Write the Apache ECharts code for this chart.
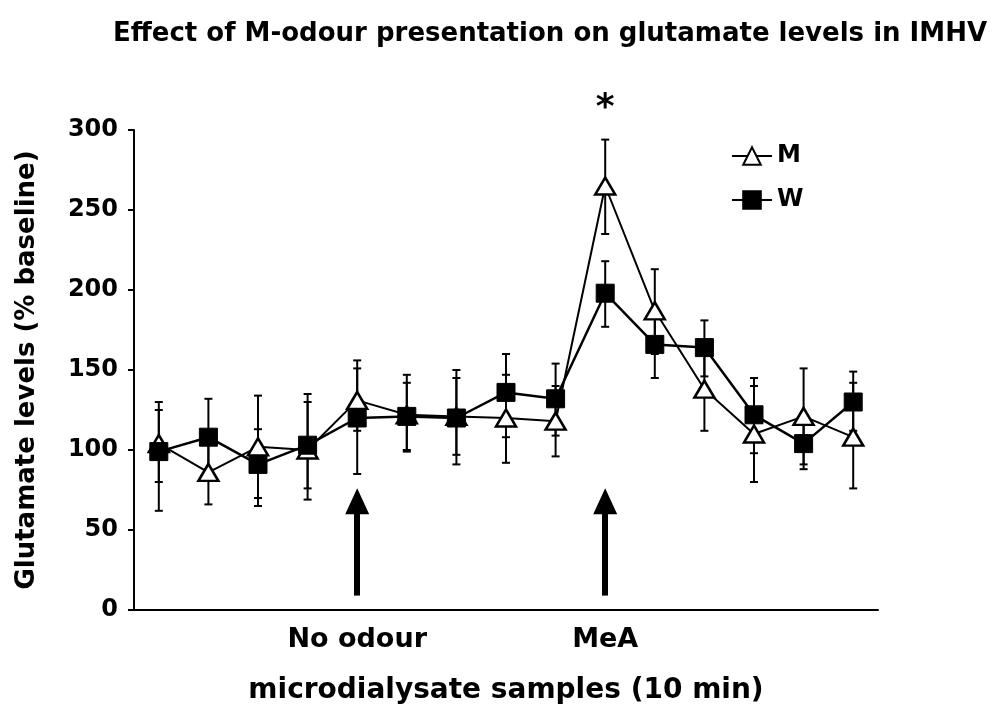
<!DOCTYPE html>
<html>
<head>
<meta charset="utf-8">
<script src="https://cdn.jsdelivr.net/npm/echarts@6/dist/echarts.min.js"></script>
<style>html,body{margin:0;padding:0;background:#fff;}#chart{width:993px;height:717px;}</style>
</head>
<body>
<div id="chart"></div>
<script>
const samples = ['1','2','3','4','5','6','7','8','9','10','11','12','13','14','15'];
const tickLabels = ['', '', '', '', 'No odour', '', '', '', '', 'MeA', '', '', '', '', ''];
const yTicks = [0, 50, 100, 150, 200, 250, 300];
const mMean = [104, 86, 102, 100, 131, 122, 121, 120, 118, 265, 187, 138, 110, 121, 108];
const mHi   = [130, 106, 134, 135, 156, 147, 150, 147, 140, 294, 213, 160, 140, 151, 142];
const mLo   = [80, 66, 70, 69, 112, 99, 91, 92, 96, 235, 160, 112, 80, 91, 76];
const wMean = [99, 108, 91, 103, 120, 121, 120, 136, 132, 198, 166, 164, 122, 104, 130];
const wHi   = [125, 132, 113, 130, 151, 142, 145, 160, 154, 218, 186, 181, 145, 120, 149];
const wLo   = [62, 88, 65, 76, 85, 100, 97, 108, 109, 177, 145, 146, 98, 88, 112];
const arrowSamples = ['5', '10'];
const arrowBottom = 9;
const arrowTop = 68;
const starSample = '10';
const starValue = 317;

const FONT = 'DejaVu Sans, Liberation Sans, Arial, sans-serif';

function errData(hi, lo) {
  return samples.map((s, i) => [i, lo[i], hi[i]]);
}
function errRender(params, api) {
  const x = api.value(0);
  const lo = api.coord([x, api.value(1)]);
  const hi = api.coord([x, api.value(2)]);
  const cap = 4;
  const st = { stroke: '#000', lineWidth: 2 };
  return {
    type: 'group',
    children: [
      { type: 'line', shape: { x1: hi[0], y1: hi[1], x2: lo[0], y2: lo[1] }, style: st },
      { type: 'line', shape: { x1: hi[0] - cap, y1: hi[1], x2: hi[0] + cap, y2: hi[1] }, style: st },
      { type: 'line', shape: { x1: lo[0] - cap, y1: lo[1], x2: lo[0] + cap, y2: lo[1] }, style: st }
    ]
  };
}

const chart = echarts.init(document.getElementById('chart'));
chart.setOption({
  animation: false,
  backgroundColor: '#fff',
  title: {
    text: 'Effect of M-odour presentation on glutamate levels in IMHV',
    left: 108, top: 16,
    textStyle: { fontFamily: FONT, fontWeight: 'bold', fontSize: 26, color: '#000' }
  },
  legend: {
    orient: 'vertical', left: 726, top: 139,
    itemWidth: 40, itemHeight: 22, itemGap: 20,
    data: ['M', 'W'],
    textStyle: { fontFamily: FONT, fontWeight: 'bold', fontSize: 24, color: '#000' }
  },
  grid: { left: 134, right: 115, top: 130, bottom: 107, containLabel: false },
  xAxis: {
    type: 'category', data: samples, boundaryGap: true,
    axisLine: { lineStyle: { color: '#000', width: 2 } },
    axisTick: { show: false },
    axisLabel: {
      interval: 0, margin: 16, formatter: (v, i) => tickLabels[i],
      fontFamily: FONT, fontWeight: 'bold', fontSize: 27, color: '#000'
    },
    name: 'microdialysate samples (10 min)', nameLocation: 'middle', nameGap: 67,
    nameTextStyle: { fontFamily: FONT, fontWeight: 'bold', fontSize: 28, color: '#000' }
  },
  yAxis: {
    type: 'value', min: yTicks[0], max: yTicks[yTicks.length - 1], interval: 50,
    axisLine: { show: true, lineStyle: { color: '#000', width: 2 } },
    axisTick: { show: true, inside: false, length: 6, lineStyle: { color: '#000', width: 2 } },
    splitLine: { show: false },
    axisLabel: { margin: 16, fontFamily: FONT, fontWeight: 'bold', fontSize: 24, color: '#000' },
    name: 'Glutamate levels (% baseline)', nameLocation: 'middle', nameGap: 94,
    nameTextStyle: { fontFamily: FONT, fontWeight: 'bold', fontSize: 26, color: '#000' }
  },
  series: [
    {
      type: 'custom', name: 'Merr', renderItem: errRender, data: errData(mHi, mLo),
      encode: { x: 0, y: [1, 2] }, z: 1, silent: true
    },
    {
      type: 'custom', name: 'Werr', renderItem: errRender, data: errData(wHi, wLo),
      encode: { x: 0, y: [1, 2] }, z: 1, silent: true
    },
    {
      type: 'line', name: 'M', data: mMean, z: 3,
      symbol: 'triangle', symbolSize: [20, 17], showAllSymbol: true,
      lineStyle: { color: '#000', width: 2 },
      itemStyle: { color: '#fff', borderColor: '#000', borderWidth: 2.5 },
      markLine: {
        silent: true, symbol: ['none', 'triangle'], symbolSize: [24, 26],
        lineStyle: { color: '#000', width: 6, type: 'solid' },
        itemStyle: { color: '#000' },
        label: { show: false },
        data: arrowSamples.map(s => [{ coord: [s, arrowBottom] }, { coord: [s, arrowTop] }])
      }
    },
    {
      type: 'line', name: 'W', data: wMean, z: 4,
      symbol: 'rect', symbolSize: 18, showAllSymbol: true,
      lineStyle: { color: '#000', width: 2.5 },
      itemStyle: { color: '#000', borderColor: '#000', borderWidth: 1 }
    }
  ]
});
const starPos = chart.convertToPixel({ gridIndex: 0 }, [starSample, starValue]);
chart.setOption({
  graphic: [{
    type: 'text', x: starPos[0], y: starPos[1] + 6, silent: true,
    style: { text: '*', fill: '#000', fontFamily: FONT, fontWeight: 'bold', fontSize: 36, align: 'center', verticalAlign: 'middle' }
  }]
});
</script>
</body>
</html>
